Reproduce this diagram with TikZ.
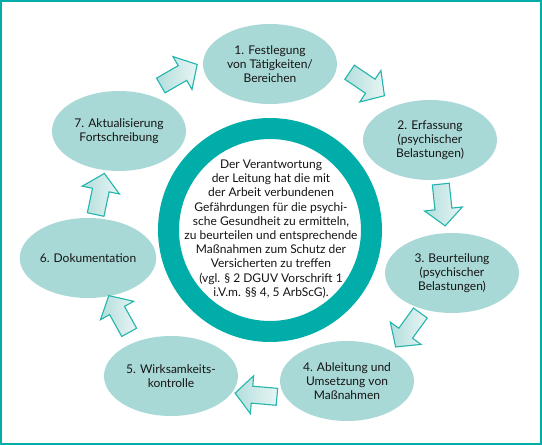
\documentclass[tikz,border=0pt]{standalone}
\usepackage{fontspec}
\setmainfont{Lato}
\usetikzlibrary{shapes.geometric}
\definecolor{ringteal}{HTML}{00ADA8}
\definecolor{elfill}{HTML}{A9D9D6}
\definecolor{arrline}{HTML}{22B5AC}
\definecolor{arrA}{HTML}{B3DEDC}
\definecolor{arrB}{HTML}{E8F5F5}
\definecolor{txt}{HTML}{141414}
\newcommand\phasearrow[4]{%
  \begin{scope}[shift={(#2,#3)}, rotate=#4]
    \shadedraw[arrowshape] (-21,-8.5) -- (4,-8.5) -- (4,-19) -- (21,0) -- (4,19) -- (4,8.5) -- (-21,8.5) -- cycle;
    \coordinate (#1) at (0,0);
  \end{scope}}
\begin{document}
\begin{tikzpicture}[x=1pt,y=1pt,
  phase/.style={ellipse, fill=elfill, minimum width=134pt, minimum height=80pt, inner sep=0pt,
    align=center, font=\fontsize{12}{14.2}\selectfont, text=txt},
  arrowshape/.style={draw=arrline, line width=1.1pt, line join=miter, left color=arrA, right color=arrB},
  ringstyle/.style={circle, draw=ringteal, line width=21pt, minimum size=203pt, inner sep=0pt},
  centertext/.style={align=center, font=\fontsize{12}{14.2}\selectfont, text=txt}]
\useasboundingbox (0,0) rectangle (542,445);
\draw[ringteal, line width=2pt] (1,1) rectangle (541,444);

\node[ringstyle] (ring) at (270,215) {};
\node[centertext] (ctext) at (271,216) {Der Verantwortung\\der Leitung hat die mit\\der Arbeit verbundenen\\Gefährdungen für die psychi-\\sche Gesundheit zu ermitteln,\\zu beurteilen und entsprechende\\Maßnahmen zum Schutz der\\Versicherten zu treffen\\(vgl. § 2 DGUV Vorschrift 1\\i.V.m. §§ 4, 5 ArbScG).};

\node[phase] (p1) at (270,381) {1. Festlegung\\von Tätigkeiten/\\Bereichen};
\node[phase] (p2) at (430,305) {2. Erfassung\\(psychischer\\Belastungen)};
\node[phase] (p3) at (452,172) {3. Beurteilung\\(psychischer\\Belastungen)};
\node[phase] (p4) at (347,64) {4. Ableitung und\\Umsetzung von\\Maßnahmen};
\node[phase] (p5) at (171,69) {5. Wirksamkeits-\\kontrolle};
\node[phase] (p6) at (88,187) {6. Dokumentation};
\node[phase] (p7) at (119,314) {7. Aktualisierung\\Fortschreibung};

\phasearrow{a12}{367}{361}{-34}
\phasearrow{a23}{443}{240}{-84}
\phasearrow{a34}{408}{115}{-126}
\phasearrow{a45}{256}{50}{175}
\phasearrow{a56}{119}{131}{119}
\phasearrow{a67}{100}{251}{78}
\phasearrow{a71}{179}{370}{30}
\end{tikzpicture}
\end{document}
